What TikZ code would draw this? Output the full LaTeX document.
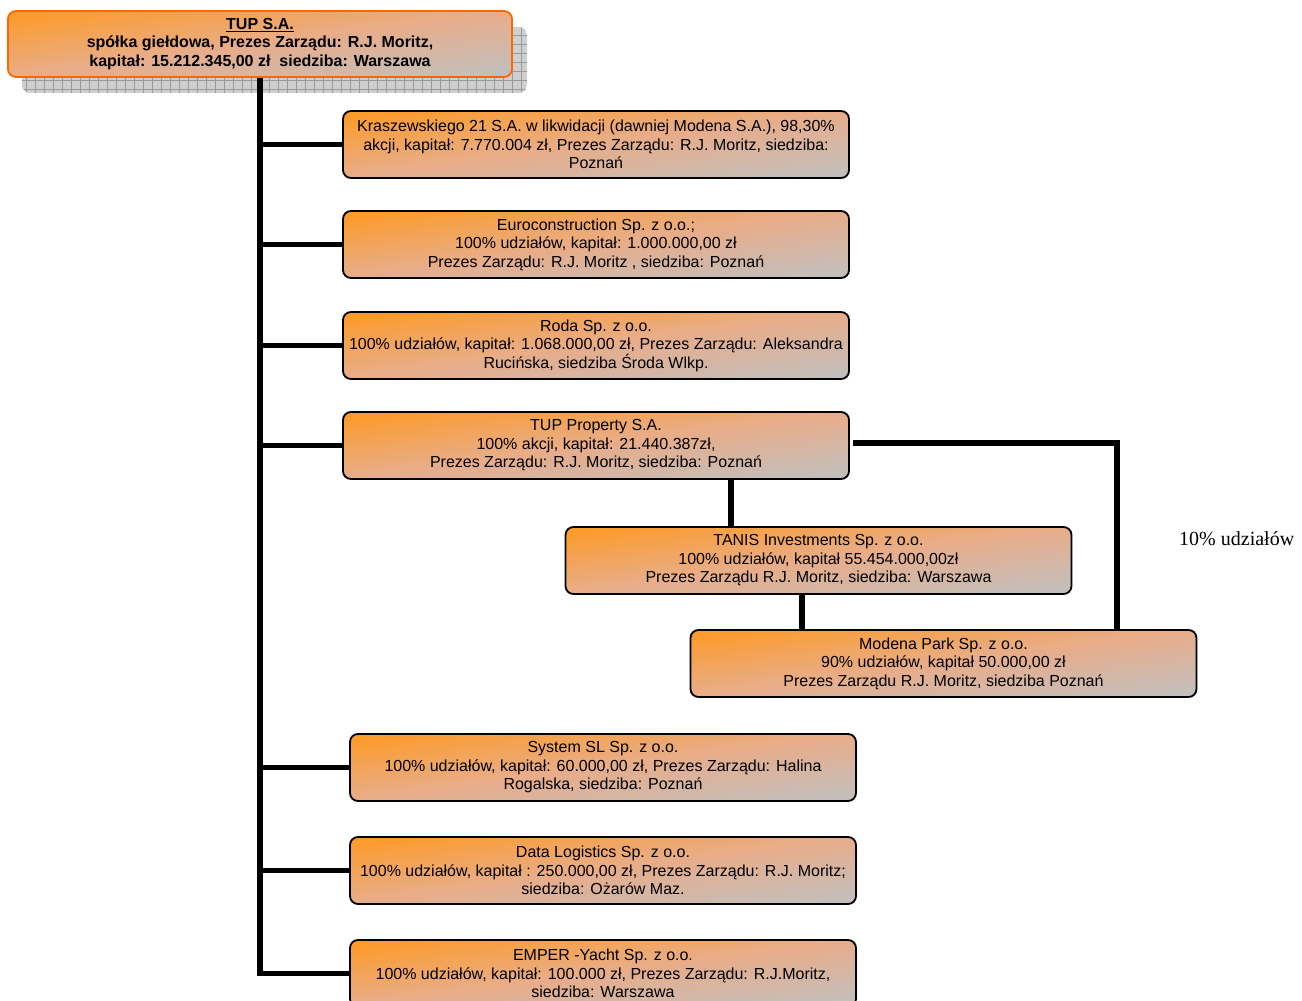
\documentclass[tikz,border=0pt]{standalone}
\usepackage{fontspec}
\setmainfont{Liberation Sans}
\newfontfamily\timesfont{Liberation Serif}
\usetikzlibrary{calc,backgrounds}
\definecolor{cOr}{HTML}{FF9A22}
\definecolor{cMid}{HTML}{E8AD8A}
\definecolor{cGr}{HTML}{C0C0C0}
\definecolor{cBorder}{HTML}{FF6600}
\definecolor{shadowfill}{HTML}{CFCFCF}
\definecolor{shadowline}{HTML}{9A9A9A}
\newcommand\mygradbox[1]{%
  \begin{scope}
  \clip[rounded corners=8pt] (#1.north west) rectangle (#1.south east);
  \foreach \i in {0,...,39}{%
    \pgfmathsetmacro\ta{\i/20}%
    \pgfmathsetmacro\tb{(\i+1)/20+0.02}%
    \pgfmathsetmacro\tc{\tb-1}%
    \pgfmathsetmacro\td{\ta-1}%
    \pgfmathsetmacro\tm{(\i+0.5)/20}%
    \ifdim\tm pt<1pt
      \pgfmathsetmacro\pc{\tm*100}%
      \colorlet{stripc}{cMid!\pc!cOr}%
    \else
      \pgfmathsetmacro\pc{(\tm-1)*100}%
      \colorlet{stripc}{cGr!\pc!cMid}%
    \fi
    \fill[stripc] ($(#1.north west)!\ta!(#1.north east)$) -- ($(#1.north west)!\tb!(#1.north east)$)
      -- ($(#1.south west)!\tc!(#1.south east)$) -- ($(#1.south west)!\td!(#1.south east)$) -- cycle;
  }%
  \end{scope}}
\begin{document}
\begin{tikzpicture}[x=1pt,y=-1pt,
  box/.style={rectangle, rounded corners=8pt, draw=black, line width=1.8pt, outer sep=0pt,
    minimum width=506pt, minimum height=67pt, inner sep=2pt, align=center,
    font=\fontsize{16}{18.5}\selectfont},
  topbox/.style={box, draw=cBorder, minimum width=504pt, minimum height=66pt,
    font=\fontsize{16}{18.5}\selectfont\bfseries},
  conn/.style={line width=5.5pt, draw=black},
  gridline/.style={shadowline, line width=1pt},
  note/.style={font=\timesfont\fontsize{20}{24}\selectfont, inner sep=0pt, anchor=base west}]
\useasboundingbox (0,0) rectangle (1302,1001);

\node[topbox] (top) at (260,44) {\underline{TUP S.A.}\\spółka giełdowa, Prezes Zarządu: R.J. Moritz,\\kapitał: 15.212.345,00 zł\ \ siedziba: Warszawa};

\node[box] (krasz) at (596,144.5) {Kraszewskiego 21 S.A. w likwidacji (dawniej Modena S.A.), 98,30\%\\akcji, kapitał: 7.770.004 zł, Prezes Zarządu: R.J. Moritz, siedziba:\\Poznań};
\node[box] (euro) at (596,244.5) {Euroconstruction Sp. z o.o.;\\100\% udziałów, kapitał: 1.000.000,00 zł\\Prezes Zarządu: R.J. Moritz , siedziba: Poznań};
\node[box] (roda) at (596,345.5) {Roda Sp. z o.o.\\100\% udziałów, kapitał: 1.068.000,00 zł, Prezes Zarządu: Aleksandra\\Rucińska, siedziba Środa Wlkp.};
\node[box] (tupp) at (596,445.5) {TUP Property S.A.\\100\% akcji, kapitał: 21.440.387zł,\\Prezes Zarządu: R.J. Moritz, siedziba: Poznań};
\node[box] (tanis) at (818.5,560.5) {TANIS Investments Sp. z o.o.\\100\% udziałów, kapitał 55.454.000,00zł\\Prezes Zarządu R.J. Moritz, siedziba: Warszawa};
\node[box] (modena) at (943.5,663.5) {Modena Park Sp. z o.o.\\90\% udziałów, kapitał 50.000,00 zł\\Prezes Zarządu R.J. Moritz, siedziba Poznań};
\node[box] (system) at (603,767.5) {System SL Sp. z o.o.\\100\% udziałów, kapitał: 60.000,00 zł, Prezes Zarządu: Halina\\Rogalska, siedziba: Poznań};
\node[box] (data) at (603,870.5) {Data Logistics Sp. z o.o.\\100\% udziałów, kapitał : 250.000,00 zł, Prezes Zarządu: R.J. Moritz;\\siedziba: Ożarów Maz.};
\node[box] (emper) at (603,973.5) {EMPER -Yacht Sp. z o.o.\\100\% udziałów, kapitał: 100.000 zł, Prezes Zarządu: R.J.Moritz,\\siedziba: Warszawa};

\node[note] (pct) at (1179,545) {10\% udziałów};

\coordinate (j1) at (731,0);
\coordinate (j2) at (802,0);
\coordinate (j3) at (1117,0);

\begin{scope}[on background layer]
  \begin{scope}
    \clip[rounded corners=8pt] (22,27) rectangle (527,93);
    \fill[shadowfill] (22,27) rectangle (527,93);
    \foreach \gx in {26,35,...,526} {\draw[gridline] (\gx,27) -- (\gx,93);}
    \foreach \gy in {28,37,...,92} {\draw[gridline] (22,\gy+7) -- (527,\gy+7);}
  \end{scope}
  \mygradbox{top}
  \mygradbox{krasz}
  \mygradbox{euro}
  \mygradbox{roda}
  \mygradbox{tupp}
  \mygradbox{tanis}
  \mygradbox{modena}
  \mygradbox{system}
  \mygradbox{data}
  \mygradbox{emper}
  \draw[conn] (top.south) |- (emper.west);
  \draw[conn] (top.south) |- (krasz.west);
  \draw[conn] (top.south) |- (euro.west);
  \draw[conn] (top.south) |- (roda.west);
  \draw[conn] (top.south) |- (tupp.west);
  \draw[conn] (top.south) |- (system.west);
  \draw[conn] (top.south) |- (data.west);
  \draw[conn] (tupp.south -| j1) -- (tanis.north -| j1);
  \draw[conn] (tanis.south -| j2) -- (modena.north -| j2);
  \draw[conn] ([xshift=4pt,yshift=2.5pt]tupp.east) -| (modena.north -| j3);
\end{scope}
\end{tikzpicture}
\end{document}
